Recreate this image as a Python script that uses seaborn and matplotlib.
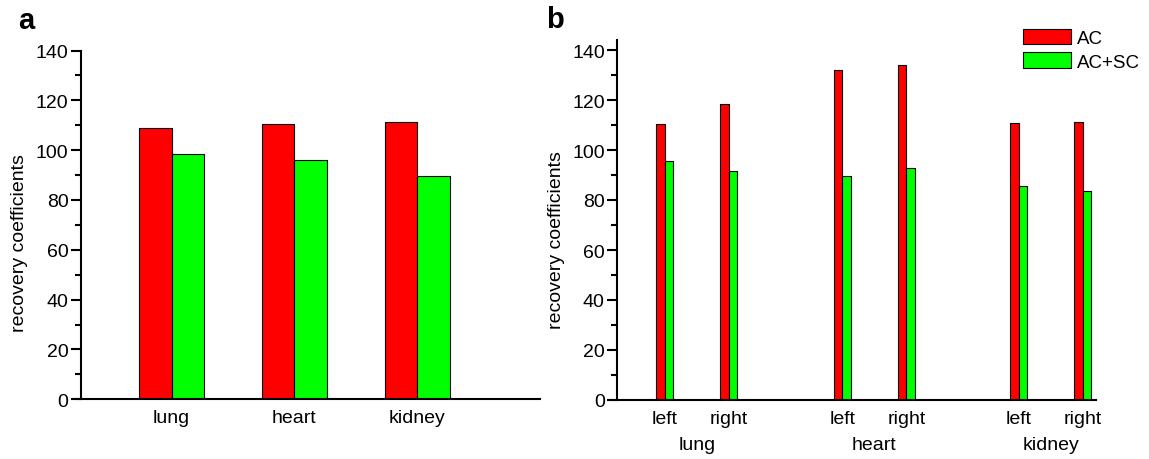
import numpy as np
import pandas as pd
import matplotlib
matplotlib.use("Agg")
import matplotlib.pyplot as plt
from matplotlib.ticker import MultipleLocator
from matplotlib.transforms import blended_transform_factory
import seaborn as sns

# ---------------- data ----------------
organs_a = ["lung", "heart", "kidney"]
ac_a = [108.9, 110.4, 111.2]
acsc_a = [98.3, 95.9, 89.5]

organs_b = ["lung", "lung", "heart", "heart", "kidney", "kidney"]
sides_b = ["left", "right", "left", "right", "left", "right"]
positions_b = [1.0, 2.0, 3.77, 4.77, 6.53, 7.53]
ac_b = [110.3, 118.3, 131.9, 134.0, 110.7, 111.2]
acsc_b = [95.5, 91.5, 89.6, 92.7, 85.6, 83.5]

methods = ["AC", "AC+SC"]
colors = ["#FF0000", "#00FF00"]
yticks = [0, 20, 40, 60, 80, 100, 120, 140]

# ---------------- style ----------------
sns.set_style("ticks")
plt.rcParams["font.family"] = ["Liberation Sans", "DejaVu Sans"]
plt.rcParams["axes.linewidth"] = 1.5
for key in ["text.color", "axes.labelcolor", "xtick.color", "ytick.color",
            "axes.edgecolor"]:
    plt.rcParams[key] = "black"

df_a = pd.DataFrame({
    "organ": organs_a * 2,
    "method": [methods[0]] * 3 + [methods[1]] * 3,
    "value": ac_a + acsc_a,
})
df_b = pd.DataFrame({
    "pos": positions_b * 2,
    "method": [methods[0]] * 6 + [methods[1]] * 6,
    "value": ac_b + acsc_b,
})

W, H = 1149, 460
fig = plt.figure(figsize=(W / 100, H / 100), dpi=100)

def px_axes(left, right, top, bottom):
    return fig.add_axes([left / W, (H - bottom) / H, (right - left) / W, (bottom - top) / H])

ax1 = px_axes(75, 540, 51.5, 400.3)
ax2 = px_axes(610.7, 1096, 40.5, 401)

# ---------------- panel a ----------------
sns.barplot(data=df_a, x="organ", y="value", hue="method", order=organs_a,
            hue_order=methods, palette=colors, width=0.53, edgecolor="black",
            linewidth=0.8, saturation=1, legend=False, ax=ax1)
ax1.set_xlim(-0.787, 3.0)
ax1.set_ylim(0, 140)
ax1.spines["left"].set_position(("data", -0.739))

# ---------------- panel b ----------------
sns.barplot(data=df_b, x="pos", y="value", hue="method", native_scale=True,
            hue_order=methods, palette=colors, width=0.266, edgecolor="black",
            linewidth=0.8, saturation=1, legend=True, ax=ax2)
ax2.set_xlim(0.152, 7.734)
ax2.set_ylim(0, 144.2)
ax2.spines["left"].set_position(("data", 0.255))
ax2.set_xticks(positions_b)
ax2.set_xticklabels(sides_b)

# group labels
trans = blended_transform_factory(ax2.transData, ax2.transAxes)
groups = []
for o in organs_b:
    if o not in groups:
        groups.append(o)
for g in groups:
    xs = [p for p, o in zip(positions_b, organs_b) if o == g]
    ax2.text(np.mean(xs), -0.0999, g, transform=trans, ha="center", va="top",
             fontsize=14, color="black")

handles, labels = ax2.get_legend_handles_labels()
ax2.legend(handles=handles, labels=labels, loc="upper left",
           bbox_to_anchor=(1023.3 / W, (H - 30) / H),
           bbox_transform=fig.transFigure, frameon=False, fontsize=13.5,
           handlelength=2.56, handleheight=0.89, handletextpad=0.32,
           labelspacing=0.28, borderpad=0, borderaxespad=0)

# ---------------- common axes styling ----------------
for ax in (ax1, ax2):
    sns.despine(ax=ax)
    ax.set_xlabel("")
    ax.set_ylabel("recovery coefficients", fontsize=14)
    ax.set_yticks(yticks)
    ax.yaxis.set_minor_locator(MultipleLocator(10))
    ax.tick_params(axis="y", which="major", direction="out", length=7,
                   width=1.5, labelsize=14, pad=2)
    ax.tick_params(axis="y", which="minor", direction="out", length=4,
                   width=1.5)
    ax.tick_params(axis="x", which="both", length=0, labelsize=14, pad=7)
    ax.yaxis.label.set_va("center")
    ax.yaxis.label.set_ha("center")

ax1.yaxis.set_label_coords(-0.1183, 0.4495)
ax2.yaxis.set_label_coords(-0.1127, 0.4466)

fig.text(18 / W, (H - 29) / H, "a", fontsize=21, fontweight="bold",
         ha="left", va="baseline")
fig.text(546 / W, (H - 28) / H, "b", fontsize=21, fontweight="bold",
         ha="left", va="baseline")

fig.savefig("out.png", dpi=100)
